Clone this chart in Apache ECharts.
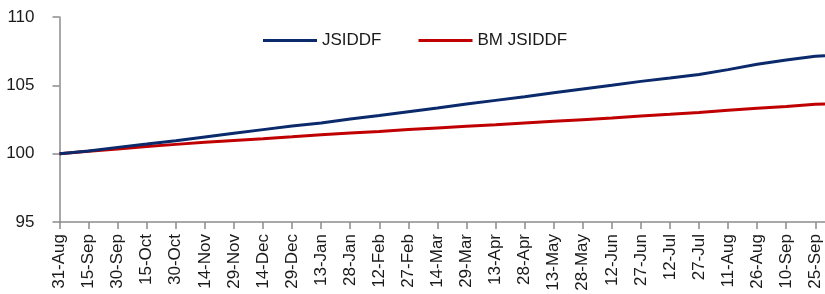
<!DOCTYPE html>
<html>
<head>
<meta charset="utf-8">
<script src="https://cdn.jsdelivr.net/npm/echarts@6/dist/echarts.min.js"></script>
<style>
html,body{margin:0;padding:0;background:#fff;}
#c{width:825px;height:294px;}
</style>
</head>
<body>
<div id="c"></div>
<script>
// Tick labels (every 15 days from 31-Aug)
var tickLabels = ['31-Aug','15-Sep','30-Sep','15-Oct','30-Oct','14-Nov','29-Nov','14-Dec','29-Dec','13-Jan','28-Jan','12-Feb','27-Feb','14-Mar','29-Mar','13-Apr','28-Apr','13-May','28-May','12-Jun','27-Jun','12-Jul','27-Jul','11-Aug','26-Aug','10-Sep','25-Sep'];
var tickDays = [0,15,30,45,60,75,90,105,120,135,150,165,180,195,210,225,240,255,270,285,300,315,330,345,360,375,390];
// Data points: day offset from 31-Aug
var dataDays = [0,15,30,45,60,75,90,105,120,135,150,165,180,195,210,225,240,255,270,285,300,315,330,345,360,375,390,395];
var jsiddf = [100,100.2,100.46,100.7,100.95,101.22,101.49,101.76,102.03,102.25,102.54,102.8,103.07,103.34,103.63,103.9,104.17,104.46,104.73,105.0,105.29,105.54,105.8,106.15,106.54,106.86,107.12,107.16];
var bmJsiddf = [100,100.17,100.34,100.53,100.68,100.83,100.97,101.1,101.24,101.39,101.51,101.63,101.76,101.88,102.0,102.12,102.25,102.37,102.49,102.61,102.76,102.88,103.02,103.17,103.32,103.46,103.61,103.64];
var seriesNames = ['JSIDDF','BM JSIDDF'];

function pairs(xs, ys){ return xs.map(function(x,i){ return [x, ys[i]]; }); }

var FONT = '"Liberation Sans", Arial, sans-serif';
var chart = echarts.init(document.getElementById('c'), null, {renderer:'canvas'});
chart.setOption({
  animation:false,
  backgroundColor:'#fff',
  textStyle:{fontFamily:FONT},
  grid:{left:59.5, right:0, top:17, bottom:72, containLabel:false, outerBoundsMode:'none'},
  legend:{
    left:258, top:27,
    itemWidth:54, itemHeight:3, itemGap:37,
    icon:'rect',
    textStyle:{fontFamily:FONT, fontSize:17, color:'#1a1a1a'},
    data:seriesNames
  },
  xAxis:{
    type:'value', min:0, max:395,
    axisLine:{show:true, lineStyle:{color:'#8c8c8c', width:1.5}},
    axisTick:{show:true, length:7, lineStyle:{color:'#8c8c8c', width:1.5}, customValues:tickDays},
    axisLabel:{
      customValues:tickDays,
      rotate:90, margin:12,
      fontFamily:FONT, fontSize:17, color:'#1a1a1a',
      formatter:function(v){ var i = tickDays.indexOf(Math.round(v)); return i>=0 ? tickLabels[i] : ''; }
    },
    splitLine:{show:false}
  },
  yAxis:{
    type:'value', min:95, max:110, interval:5,
    axisLine:{show:true, lineStyle:{color:'#8c8c8c', width:1.5}},
    axisTick:{show:true, length:7, lineStyle:{color:'#8c8c8c', width:1.5}},
    axisLabel:{margin:25, fontFamily:FONT, fontSize:17, color:'#1a1a1a'},
    splitLine:{show:false}
  },
  series:[
    {name:seriesNames[0], type:'line', data:pairs(dataDays, jsiddf), showSymbol:false, symbol:'none',
     lineStyle:{color:'#0a2a6b', width:3}, itemStyle:{color:'#0a2a6b'}, z:3},
    {name:seriesNames[1], type:'line', data:pairs(dataDays, bmJsiddf), showSymbol:false, symbol:'none',
     lineStyle:{color:'#c00000', width:3}, itemStyle:{color:'#c00000'}, z:2}
  ]
});
</script>
</body>
</html>
